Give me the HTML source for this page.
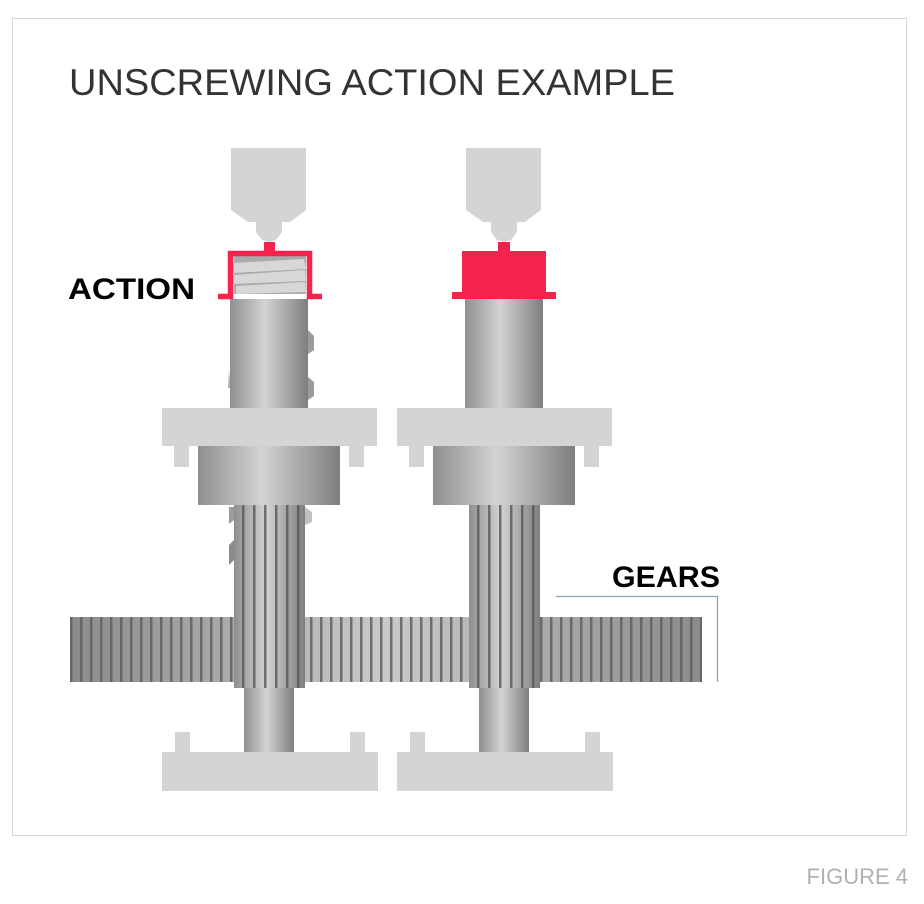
<!DOCTYPE html>
<html><head><style>
html,body{margin:0;padding:0;background:#fff;}
svg{display:block;}
</style></head><body>
<svg width="924" height="904" viewBox="0 0 924 904" xmlns="http://www.w3.org/2000/svg">
<defs>
<linearGradient id="cyl" x1="0" x2="1" y1="0" y2="0">
<stop offset="0" stop-color="#8e8f91"/><stop offset="0.45" stop-color="#d2d3d5"/><stop offset="1" stop-color="#7d7e80"/>
</linearGradient>
<linearGradient id="gearg" x1="0" x2="1" y1="0" y2="0">
<stop offset="0" stop-color="#8a8b8d"/><stop offset="0.5" stop-color="#c8c9cb"/><stop offset="1" stop-color="#8a8b8d"/>
</linearGradient>
<pattern id="teeth" width="10" height="10" patternUnits="userSpaceOnUse">
<rect x="0" y="0" width="2.5" height="10" fill="#5e5f61" opacity="0.85"/>
</pattern>
<pattern id="spl" width="11" height="10" patternUnits="userSpaceOnUse">
<rect x="0" y="0" width="2.5" height="10" fill="#555658" opacity="0.8"/>
</pattern>
</defs>
<rect x="12.5" y="18.5" width="894" height="817" fill="#fff" stroke="#d6d6d6" stroke-width="1"/>
<text x="69" y="95" font-family="Liberation Sans, sans-serif" font-size="37" fill="#333" textLength="606" lengthAdjust="spacingAndGlyphs">UNSCREWING ACTION EXAMPLE</text>
<text x="908" y="884" text-anchor="end" font-family="Liberation Sans, sans-serif" font-size="22" fill="#b0b0b0">FIGURE 4</text>
<text x="68" y="299" font-family="Liberation Sans, sans-serif" font-size="30" font-weight="bold" fill="#000" textLength="127" lengthAdjust="spacingAndGlyphs">ACTION</text>
<text x="612" y="587" font-family="Liberation Sans, sans-serif" font-size="30" font-weight="bold" fill="#000" textLength="108" lengthAdjust="spacingAndGlyphs">GEARS</text>
<polyline points="556,596.5 717.5,596.5 717.5,682" fill="none" stroke="#8fa3b5" stroke-width="1.3"/>

<rect x="70" y="617" width="632" height="65" fill="url(#gearg)"/>
<rect x="70" y="617" width="632" height="65" fill="url(#teeth)"/>

<g id="unit">
<polygon points="231,148 306,148 306,210 290,222 282,222 282,232 276,240 269,242 262,240 256,232 256,222 248,222 231,210" fill="#d3d4d6"/>
<rect x="244" y="688" width="50" height="64" fill="url(#cyl)"/>
<rect x="234" y="505" width="71" height="183" fill="url(#cyl)"/>
<rect x="234" y="505" width="71" height="183" fill="url(#spl)"/>
<rect x="230" y="299" width="78" height="109" fill="url(#cyl)"/>
<rect x="198" y="446" width="142" height="59" fill="url(#cyl)"/>
<rect x="162" y="408" width="215" height="38" fill="#d3d4d6"/>
<rect x="174" y="446" width="15" height="21" fill="#d3d4d6"/>
<rect x="349" y="446" width="15" height="21" fill="#d3d4d6"/>
<rect x="162" y="752" width="216" height="39" fill="#d3d4d6"/>
<rect x="175" y="732" width="15" height="20" fill="#d3d4d6"/>
<rect x="350" y="732" width="15" height="20" fill="#d3d4d6"/>
</g>
<rect x="234" y="254" width="72" height="40" fill="#a9aaac"/>
<polygon points="233,263 304,259 306,269 233,273" fill="#d6d7d9"/>
<polygon points="233,275 305,270 306,281 233,284" fill="#d6d7d9"/>
<polygon points="236,286 305,282 306,292 236,294" fill="#d6d7d9"/>
<path d="M218,296.5 H230.5 V253.5 H309.5 V296.5 H322" fill="none" stroke="#f5234e" stroke-width="5.5"/>
<rect x="264" y="242" width="11" height="10" fill="#f5234e"/>
<polygon points="308,330 314,336 314,350 308,354" fill="#9a9b9d"/>
<polygon points="308,377 314,382 314,396 308,400" fill="#9a9b9d"/>
<polygon points="229,370 230,380 230,388 228,388" fill="#b0b1b3"/>
<polygon points="229,507 234,507 234,520 229,524" fill="#9a9b9d"/>
<polygon points="229,545 234,540 234,560 229,565" fill="#8a8b8d"/>
<polygon points="305,507 312,512 312,522 305,525" fill="#c0c1c3"/>

<use href="#unit" x="235"/>
<rect x="498" y="242" width="12" height="10" fill="#f5234e"/>
<rect x="462" y="251" width="84" height="42" fill="#f5234e"/>
<rect x="452" y="292" width="104" height="7" fill="#f5234e"/>
</svg>
</body></html>
